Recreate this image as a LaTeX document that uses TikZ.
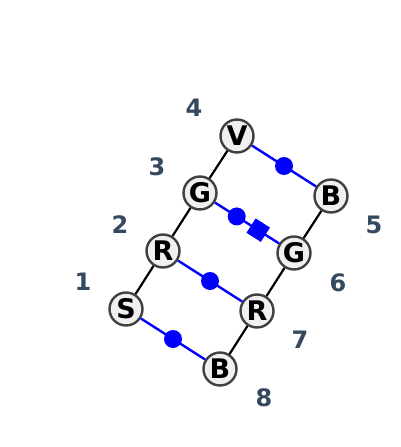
\documentclass[tikz,border=0pt]{standalone}
\usepackage{fontspec}
\setmainfont{DejaVu Sans}
\definecolor{numgray}{HTML}{34495E}
\definecolor{ringgray}{HTML}{404040}
\definecolor{fillgray}{HTML}{F0F0F0}
\begin{document}
\begin{tikzpicture}
    [x=1pt,y=-1pt,
    res/.style={circle,draw=ringgray,fill=fillgray,line width=2.4pt,minimum size=33pt,inner sep=0pt,
      font=\fontsize{27}{27}\selectfont\bfseries},
    num/.style={text=numgray,font=\fontsize{24}{24}\selectfont\bfseries},
    chain/.style={black,line width=2.2pt},
    link/.style={blue,line width=2.4pt},
    dot/.style={circle,fill=blue,minimum size=18pt,inner sep=0pt},
    sq/.style={rectangle,fill=blue,minimum size=17pt,inner sep=0pt,sloped}]
    \useasboundingbox (0,0) rectangle (400,447);
    % left strand
    \node[res] (s1) at (126,309) {S};
    \node[res] (r2) at (163,251) {R};
    \node[res] (g3) at (200,193) {G};
    \node[res] (v4) at (237,136) {V};
    % right strand
    \node[res] (b5) at (331,196) {B};
    \node[res] (g6) at (294,253) {G};
    \node[res] (r7) at (257,311) {R};
    \node[res] (b8) at (220,369) {B};
    % positions
    \node[num] (n1) at (83,282) {1};
    \node[num] (n2) at (120,225) {2};
    \node[num] (n3) at (157,167) {3};
    \node[num] (n4) at (194,108) {4};
    \node[num] (n5) at (374,225) {5};
    \node[num] (n6) at (338,283) {6};
    \node[num] (n7) at (300,340) {7};
    \node[num] (n8) at (264,398) {8};
    \draw[chain] (s1) -- (r2) -- (g3) -- (v4);
    \draw[chain] (b8) -- (r7) -- (g6) -- (b5);
    \draw[link] (v4) -- node[dot] {} (b5);
    \draw[link] (g3) -- node[dot,pos=0.34] {} node[sq,pos=0.675] {} (g6);
    \draw[link] (r2) -- node[dot] {} (r7);
    \draw[link] (s1) -- node[dot] {} (b8);
\end{tikzpicture}
\end{document}
